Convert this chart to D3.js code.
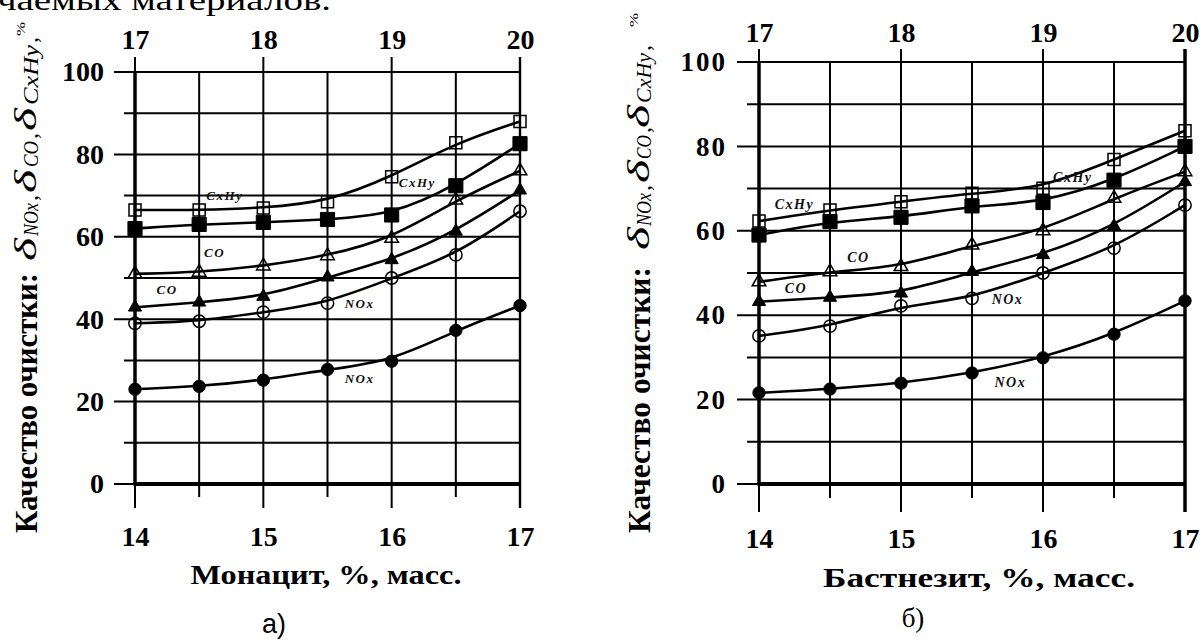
<!DOCTYPE html>
<html><head><meta charset="utf-8">
<script src="https://cdn.jsdelivr.net/npm/d3@7"></script>
<style>body{margin:0;background:#fff;} svg{display:block;}</style>
</head><body><svg id="c" width="1201" height="641"></svg>
<script>
// ---------- data ----------
const xValues = [14, 14.5, 15, 15.5, 16, 16.5, 17];
const bottomTicks = [14, 15, 16, 17];
const topTicks = [17, 18, 19, 20];
const yTicks = [0, 20, 40, 60, 80, 100];
const yMinor = [10, 30, 50, 70, 90];

// panel а) Монацит
const monCxHyOpen   = [66.5, 66.5, 67, 68.5, 74.6, 82.8, 88];
const monCxHyFilled = [62, 63, 63.5, 64.2, 65.3, 72.4, 82.6];
const monCOOpen     = [51, 51.4, 52.9, 55.4, 59.6, 68.9, 76];
const monCOFilled   = [42.9, 44.1, 45.5, 50.2, 54.4, 61.3, 71.3];
const monNOxOpen    = [39, 39.5, 41.7, 43.9, 50, 55.6, 66.2];
const monNOxFilled  = [23, 23.7, 25.2, 27.8, 29.8, 37.3, 43.3];

// panel б) Бастнезит
const basCxHyOpen   = [62.3, 64.9, 66.9, 68.9, 70.1, 76.9, 83.7];
const basCxHyFilled = [59, 62.2, 63.2, 65.9, 66.7, 72, 80];
const basCOOpen     = [47.9, 50.3, 51.5, 56.6, 60, 67.7, 74];
const basCOFilled   = [43.2, 44.2, 45.2, 50.3, 54.3, 61.1, 71.6];
const basNOxOpen    = [35.1, 37.4, 42.2, 44, 50, 55.9, 66.1];
const basNOxFilled  = [21.6, 22.5, 23.9, 26.3, 29.9, 35.5, 43.4];

// curve labels: [text, x value, y value]
const monLabels = [["CxHy",14.70,70.1],["CxHy",16.20,73.1],["CO",14.62,56.1],["CO",14.25,47.3],["NOx",15.75,43.9],["NOx",15.75,25.7]];
const basLabels = [["CxHy",14.25,66.4],["CxHy",16.21,72.7],["CO",14.70,53.8],["CO",14.26,46.4],["NOx",15.75,43.8],["NOx",15.77,24.2]];

const yTitleSubs = ['NOx', 'CO', 'CxHy'];

const serif = "'Liberation Serif','Times New Roman',serif";
const svg = d3.select('#c');

// partial document text cut at the top
svg.append('text').attr('x', -3).attr('y', 10).attr('font-family', serif).attr('font-size', 30)
  .attr('textLength', 334).attr('lengthAdjust', 'spacingAndGlyphs').text('чаемых материалов.');

function panel(cfg) {
  const g = svg.append('g');
  const x = d3.scaleLinear().domain([14, 17]).range([cfg.x0, cfg.x1]);
  const xTop = d3.scaleLinear().domain([17, 20]).range([cfg.x0, cfg.x1]);
  const y = d3.scaleLinear().domain([0, 100]).range([cfg.y0, cfg.y100]);

  // horizontal grid
  g.selectAll('line.hmaj').data(yTicks).join('line').attr('class', 'hmaj')
    .attr('x1', cfg.majorLeft).attr('x2', x(17)).attr('y1', d => y(d)).attr('y2', d => y(d))
    .attr('stroke', '#000').attr('stroke-width', 2);
  g.selectAll('line.hmin').data(yMinor).join('line').attr('class', 'hmin')
    .attr('x1', cfg.minorLeft).attr('x2', x(17)).attr('y1', d => y(d)).attr('y2', d => y(d))
    .attr('stroke', '#000').attr('stroke-width', 2);
  // vertical grid
  g.selectAll('line.v').data(xValues).join('line').attr('class', 'v')
    .attr('x1', d => x(d)).attr('x2', d => x(d))
    .attr('y1', d => Number.isInteger(d) ? cfg.topExt : y(100))
    .attr('y2', d => Number.isInteger(d) ? cfg.botMajor : cfg.botMinor)
    .attr('stroke', '#000').attr('stroke-width', d => d === 17 ? cfg.rightW : 2);
  // thick axes
  g.append('line').attr('x1', x(14)).attr('x2', x(14)).attr('y1', y(100)).attr('y2', y(0))
    .attr('stroke', '#000').attr('stroke-width', 3.5);
  g.append('line').attr('x1', x(14) - 1.5).attr('x2', x(17)).attr('y1', y(0)).attr('y2', y(0))
    .attr('stroke', '#000').attr('stroke-width', 4);

  // axes labels via d3 axes
  const styleAxis = (sel, size, ls) => {
    sel.select('.domain').remove();
    sel.selectAll('text').attr('font-family', serif).attr('font-weight', 'bold')
      .attr('font-size', size).attr('fill', '#000').attr('letter-spacing', ls);
  };
  const fmt = d3.format('d');
  g.append('g').attr('transform', `translate(${cfg.yLabelRight},0)`)
    .call(d3.axisLeft(y).tickValues(yTicks).tickFormat(fmt).tickSize(0).tickPadding(0))
    .call(s => styleAxis(s, cfg.yFont, cfg.yLS));
  g.append('g').attr('transform', `translate(0,${cfg.bottomLabelTop})`)
    .call(d3.axisBottom(x).tickValues(bottomTicks).tickFormat(fmt).tickSize(0).tickPadding(0))
    .call(s => styleAxis(s, 28, 0));
  g.append('g').attr('transform', `translate(0,${cfg.topLabelBase})`)
    .call(d3.axisTop(xTop).tickValues(topTicks).tickFormat(fmt).tickSize(0).tickPadding(0))
    .call(s => styleAxis(s, 28, 0));

  // curves (smooth fitted look)
  const line = d3.line().x((d, i) => x(xValues[i])).y(d => y(d)).curve(d3.curveBasis);
  cfg.series.forEach(s => {
    g.append('path').attr('d', line(s.values)).attr('fill', 'none')
      .attr('stroke', '#000').attr('stroke-width', 2.6);
  });
  // markers
  const sym = { square: d3.symbolSquare, triangle: d3.symbolTriangle, circle: d3.symbolCircle };
  const sizes = { square: [144, 200], triangle: [80, 75], circle: [120, 120] };
  cfg.series.forEach(s => {
    g.selectAll(null).data(s.values).join('path')
      .attr('transform', (d, i) => `translate(${x(xValues[i])},${y(d)})`)
      .attr('d', d3.symbol().type(sym[s.type]).size(sizes[s.type][s.filled ? 1 : 0]))
      .attr('fill', s.filled ? '#000' : 'none')
      .attr('stroke', '#000').attr('stroke-width', s.filled ? 1 : 1.5);
  });
  // curve labels
  g.selectAll('text.lab').data(cfg.labels).join('text').attr('class', 'lab')
    .attr('x', d => x(d[1])).attr('y', d => y(d[2])).attr('dy', '0.35em')
    .attr('text-anchor', 'middle').attr('font-family', serif).attr('font-style', 'italic')
    .attr('font-weight', 'bold').attr('font-size', cfg.labFont).attr('fill', '#111')
    .attr('letter-spacing', 1.5).text(d => d[0]);

  // x title and panel letter
  g.append('text').attr('x', cfg.titleX).attr('y', cfg.titleY).attr('text-anchor', 'middle')
    .attr('font-family', serif).attr('font-weight', 'bold').attr('font-size', 27)
    .attr('textLength', cfg.titleLen).attr('lengthAdjust', 'spacingAndGlyphs').text(cfg.title);
  g.append('text').attr('x', cfg.letterX).attr('y', cfg.letterY).attr('text-anchor', 'middle')
    .attr('font-family', cfg.letterFont).attr('font-size', 27).text(cfg.letter);

  // rotated y title
  const yt = g.append('g').attr('transform', `translate(${cfg.ytX},${cfg.ytY}) rotate(-90)`);
  yt.append('text').attr('x', 0).attr('y', 0).attr('font-family', serif).attr('font-weight', 'bold')
    .attr('font-size', 31).attr('textLength', cfg.ytLen).attr('lengthAdjust', 'spacingAndGlyphs')
    .text('Качество очистки:');
  yTitleSubs.forEach((sb, i) => {
    const p = cfg.groups[i];
    yt.append('text').attr('x', p[0]).attr('y', -1).attr('font-family', serif)
      .attr('font-style', 'italic').attr('font-size', 31)
      .attr('textLength', 23).attr('lengthAdjust', 'spacingAndGlyphs').text('δ');
    yt.append('text').attr('x', p[1]).attr('y', 1).attr('font-family', serif)
      .attr('font-style', 'italic').attr('font-size', 20)
      .attr('textLength', p[2]).attr('lengthAdjust', 'spacingAndGlyphs').text(sb);
    yt.append('text').attr('x', p[3]).attr('y', 0).attr('font-family', serif)
      .attr('font-size', 24).text(',');
  });
  yt.append('text').attr('x', cfg.pctStart).attr('y', -12).attr('font-family', serif)
    .attr('font-size', 13).attr('textLength', 14).attr('lengthAdjust', 'spacingAndGlyphs').text('%');
}

panel({
  x0: 135, x1: 520, y0: 484, y100: 72,
  majorLeft: 114, minorLeft: 124, topExt: 57, botMajor: 508, botMinor: 497, rightW: 2.4,
  yLabelRight: 104, yFont: 28, yLS: 0, bottomLabelTop: 526, topLabelBase: 49,
  series: [
    { values: monCxHyOpen, type: 'square', filled: false },
    { values: monCxHyFilled, type: 'square', filled: true },
    { values: monCOOpen, type: 'triangle', filled: false },
    { values: monCOFilled, type: 'triangle', filled: true },
    { values: monNOxOpen, type: 'circle', filled: false },
    { values: monNOxFilled, type: 'circle', filled: true }
  ],
  labels: monLabels, labFont: 13,
  title: 'Монацит, %, масс.', titleX: 326, titleY: 584, titleLen: 271,
  letter: 'а)', letterX: 274, letterY: 633, letterFont: "'Liberation Sans',Arial,sans-serif",
  ytX: 37, ytY: 533, ytLen: 260,
  groups: [[272, 297, 33, 332], [340, 366, 26, 394], [402, 428, 60, 490]], pctStart: 497
});

panel({
  x0: 759, x1: 1185, y0: 484, y100: 62,
  majorLeft: 737, minorLeft: 747, topExt: 49, botMajor: 512, botMinor: 498, rightW: 3.5,
  yLabelRight: 727, yFont: 27, yLS: 2, bottomLabelTop: 528, topLabelBase: 42,
  series: [
    { values: basCxHyOpen, type: 'square', filled: false },
    { values: basCxHyFilled, type: 'square', filled: true },
    { values: basCOOpen, type: 'triangle', filled: false },
    { values: basCOFilled, type: 'triangle', filled: true },
    { values: basNOxOpen, type: 'circle', filled: false },
    { values: basNOxFilled, type: 'circle', filled: true }
  ],
  labels: basLabels, labFont: 14,
  title: 'Бастнезит, %, масс.', titleX: 979, titleY: 587, titleLen: 312,
  letter: 'б)', letterX: 913, letterY: 627, letterFont: serif,
  ytX: 650, ytY: 533, ytLen: 266,
  groups: [[283, 307, 33, 342], [350, 374, 24, 400], [405, 430, 50, 482]], pctStart: 506
});
</script>
</body></html>
